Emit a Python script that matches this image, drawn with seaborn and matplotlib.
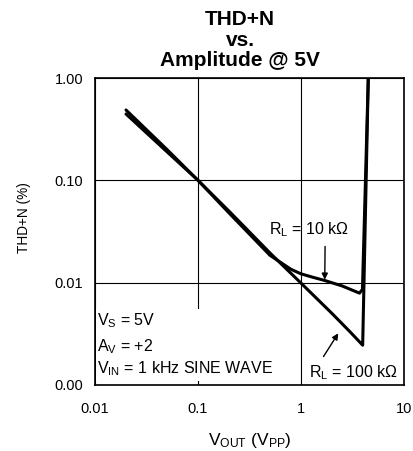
import numpy as np
import pandas as pd
import matplotlib
matplotlib.use("Agg")
import matplotlib.pyplot as plt
import seaborn as sns
from matplotlib.patches import Rectangle
from matplotlib.ticker import FixedLocator, FixedFormatter, NullLocator

# ---- data ----
vout_10k = [0.02, 0.05, 0.1, 0.2, 0.5, 0.8, 1.0, 1.3, 1.7, 2.5, 3.7, 3.95, 4.5]
thd_10k = [0.445, 0.19, 0.1, 0.048, 0.0185, 0.0135, 0.0122, 0.0113, 0.0105, 0.0093, 0.0079, 0.0086, 1.0]

vout_100k = [0.02, 0.05, 0.1, 0.2, 0.5, 1.0, 2.0, 3.0, 3.97, 4.5]
thd_100k = [0.487, 0.2, 0.1, 0.05, 0.0195, 0.0099, 0.005, 0.0033, 0.00245, 1.0]

series_labels = ["R$_\\mathregular{L}$ = 10 k\u03a9", "R$_\\mathregular{L}$ = 100 k\u03a9"]

x_ticks = [0.01, 0.1, 1, 10]
x_tick_labels = ["0.01", "0.1", "1", "10"]
y_ticks = [0.001, 0.01, 0.1, 1.0]
y_tick_labels = ["0.00", "0.01", "0.10", "1.00"]

# ---- styling ----
sns.set_style("white")
plt.rcParams["font.family"] = ["Liberation Sans", "DejaVu Sans"]
plt.rcParams["mathtext.fontset"] = "custom"
plt.rcParams["mathtext.rm"] = "Liberation Sans"
plt.rcParams["mathtext.it"] = "Liberation Sans"
plt.rcParams["mathtext.bf"] = "Liberation Sans:bold"
for k in ["text.color", "axes.labelcolor", "xtick.color", "ytick.color",
          "xtick.labelcolor", "ytick.labelcolor"]:
    plt.rcParams[k] = "black"

df = pd.concat([
    pd.DataFrame({"vout": vout_10k, "thd": thd_10k, "load": "10k"}),
    pd.DataFrame({"vout": vout_100k, "thd": thd_100k, "load": "100k"}),
], ignore_index=True)

fig = plt.figure(figsize=(4.13, 4.51), dpi=100)
ax = fig.add_axes([95 / 413, 1 - 385 / 451, 309 / 413, 307 / 451])

sns.lineplot(data=df, x="vout", y="thd", hue="load", palette=["black", "black"],
             sort=False, estimator=None, linewidth=2.2, legend=False, ax=ax,
             zorder=3)

ax.set_xscale("log")
ax.set_yscale("log")
ax.set_xlim(0.01, 10)
ax.set_ylim(0.001, 1.0)

ax.xaxis.set_major_locator(FixedLocator(x_ticks))
ax.xaxis.set_major_formatter(FixedFormatter(x_tick_labels))
ax.yaxis.set_major_locator(FixedLocator(y_ticks))
ax.yaxis.set_major_formatter(FixedFormatter(y_tick_labels))
ax.xaxis.set_minor_locator(NullLocator())
ax.yaxis.set_minor_locator(NullLocator())
ax.tick_params(axis="x", length=0, pad=12, labelsize=10.5)
ax.tick_params(axis="y", length=0, pad=8.5, labelsize=10.5)

ax.grid(True, which="major", color="black", linewidth=0.8)
ax.set_axisbelow(True)
for s in ax.spines.values():
    s.set_color("black")
    s.set_linewidth(1.2)

ax.set_xlabel("V$_\\mathregular{OUT}$ (V$_\\mathregular{PP}$)", fontsize=12.5, labelpad=11)
ax.set_ylabel("THD+N (%)", fontsize=9.8, labelpad=17)
ax.yaxis.label.set_y((385 - 218) / 307)

fig.text(240 / 413, 1 - 10 / 451, "THD+N\nvs.\nAmplitude @ 5V", ha="center", va="top",
         fontsize=15, fontweight="bold", linespacing=1.1)

# white boxes behind the condition / label text
ax.add_patch(Rectangle((0.004, 0.012), 0.625, 0.235, transform=ax.transAxes,
                       facecolor="white", edgecolor="none", zorder=1))
ax.add_patch(Rectangle((0.69, 0.004), 0.305, 0.075, transform=ax.transAxes,
                       facecolor="white", edgecolor="none", zorder=1))

tfs = 11.5
ax.text(0.006, 1 - (320.7 - 78) / 307, "V$_\\mathregular{S}$ = 5V", transform=ax.transAxes,
        fontsize=tfs, va="center", ha="left", zorder=4)
ax.text(0.006, 1 - (346.7 - 78) / 307, "A$_\\mathregular{V}$ = +2", transform=ax.transAxes,
        fontsize=tfs, va="center", ha="left", zorder=4)
ax.text(0.006, 1 - (369 - 78) / 307, "V$_\\mathregular{IN}$ = 1 kHz SINE WAVE", transform=ax.transAxes,
        fontsize=tfs, va="center", ha="left", zorder=4)

ax.annotate(series_labels[0], xy=(1.70, 0.0107), xytext=(1.20, 0.033),
            fontsize=tfs, ha="center", va="center", zorder=4,
            arrowprops=dict(arrowstyle="-|>", color="black", lw=1.0,
                            shrinkA=3, shrinkB=0, mutation_scale=9,
                            relpos=(0.7, 0.0)))
ax.annotate(series_labels[1], xy=(2.30, 0.0032), xytext=(3.2, 0.00132),
            fontsize=tfs, ha="center", va="center", zorder=4,
            arrowprops=dict(arrowstyle="-|>", color="black", lw=1.0,
                            shrinkA=3, shrinkB=0, mutation_scale=9,
                            relpos=(0.12, 1.0)))

fig.savefig("out.png", dpi=100)
